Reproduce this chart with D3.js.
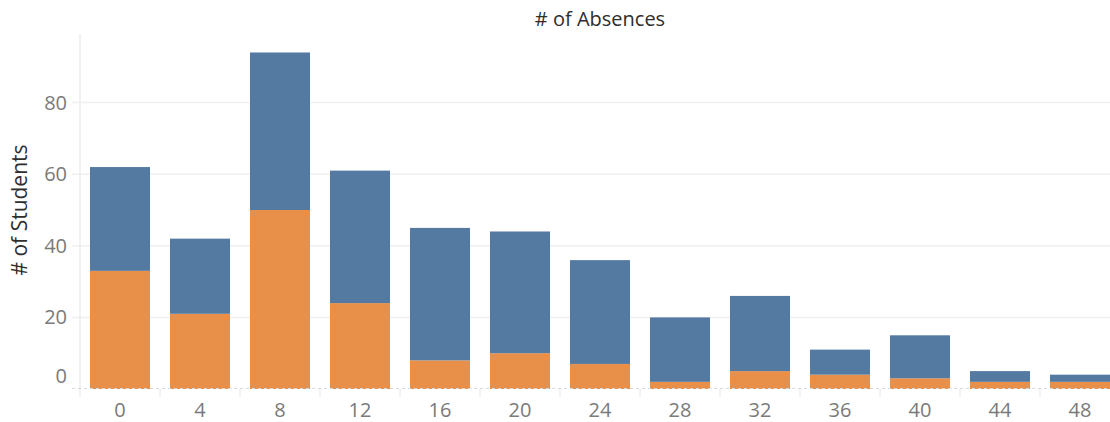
<!DOCTYPE html>
<html>
<head>
<meta charset="utf-8">
<script src="https://cdn.jsdelivr.net/npm/d3@7"></script>
<style>
  html, body { margin: 0; padding: 0; background: #fff; overflow: hidden; }
  svg { display: block; }
</style>
</head>
<body>
<svg id="chart" width="1110" height="422"></svg>
<script>
// Data
const absences = [0, 4, 8, 12, 16, 20, 24, 28, 32, 36, 40, 44, 48];
const totalStudents = [62, 42, 94, 61, 45, 44, 36, 20, 26, 11, 15, 5, 4];
const orangeStudents = [33, 21, 50, 24, 8, 10, 7, 2, 5, 4, 3, 2, 2];
const blueStudents = totalStudents.map((t, i) => t - orangeStudents[i]);
const yTicks = [0, 20, 40, 60, 80];
const chartTitle = "# of Absences";
const yTitle = "# of Students";

const svg = d3.select("#chart");
const plotLeft = 80, plotRight = 1120, plotTop = 34, zeroY = 389;

const x = d3.scaleBand().domain(absences).range([plotLeft, plotRight]).paddingInner(0.25).paddingOuter(0.125);
const y = d3.scaleLinear().domain([0, 80]).range([zeroY, zeroY - 80 * 3.58]);

const font = "'Open Sans', sans-serif";

// gridlines
svg.append("g").selectAll("line").data(yTicks.filter(d => d > 0)).join("line")
  .attr("x1", 72).attr("x2", 1110)
  .attr("y1", d => y(d)).attr("y2", d => y(d))
  .attr("stroke", "#f0f0f0").attr("stroke-width", 1.5);

// vertical axis line
svg.append("line").attr("x1", plotLeft).attr("x2", plotLeft).attr("y1", plotTop).attr("y2", 397)
  .attr("stroke", "#ececec").attr("stroke-width", 1.5);

// category separators
svg.append("g").selectAll("line").data(absences.slice(1)).join("line")
  .attr("x1", d => x(d) - x.step() * 0.125).attr("x2", d => x(d) - x.step() * 0.125)
  .attr("y1", zeroY).attr("y2", 397)
  .attr("stroke", "#ececec").attr("stroke-width", 1.5);

// stacked bars
const stackData = absences.map((a, i) => ({ a, orange: orangeStudents[i], blue: blueStudents[i] }));
const series = d3.stack().keys(["orange", "blue"])(stackData);
const colors = { orange: "#e8904a", blue: "#557aa2" };
svg.append("g").selectAll("g").data(series).join("g")
  .attr("fill", s => colors[s.key])
  .selectAll("rect").data(s => s).join("rect")
  .attr("x", d => x(d.data.a))
  .attr("width", x.bandwidth())
  .attr("y", d => y(d[1]))
  .attr("height", d => y(d[0]) - y(d[1]));

// zero line (dashed)
svg.append("line").attr("x1", 72).attr("x2", 1110).attr("y1", zeroY - 0.5).attr("y2", zeroY - 0.5)
  .attr("stroke", "#d9d9d9").attr("stroke-width", 1).attr("stroke-dasharray", "3,3");

// y axis labels
svg.append("g").selectAll("text").data(yTicks).join("text")
  .attr("x", 67)
  .attr("y", d => d === 0 ? y(d) - 13 : y(d))
  .attr("dy", "0.35em")
  .attr("text-anchor", "end")
  .attr("font-family", font).attr("font-size", 20).attr("fill", "#7a7a7a")
  .text(d => d);

// x axis labels
svg.append("g").selectAll("text").data(absences).join("text")
  .attr("x", d => x(d) + x.bandwidth() / 2)
  .attr("y", 417)
  .attr("text-anchor", "middle")
  .attr("font-family", font).attr("font-size", 20).attr("fill", "#7a7a7a")
  .text(d => d);

// title
svg.append("text").attr("x", 600).attr("y", 26).attr("text-anchor", "middle")
  .attr("font-family", font).attr("font-size", 20).attr("fill", "#2e2e2e")
  .text(chartTitle);

// y title
svg.append("text").attr("transform", "translate(27,210) rotate(-90)")
  .attr("text-anchor", "middle")
  .attr("font-family", font).attr("font-size", 21).attr("fill", "#2e2e2e")
  .text(yTitle);
</script>
</body>
</html>
